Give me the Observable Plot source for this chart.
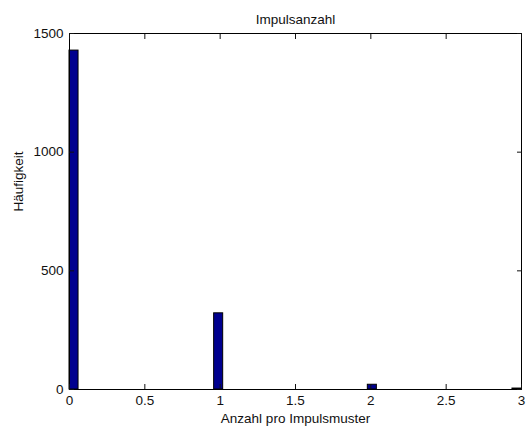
<!DOCTYPE html>
<html><head><meta charset="utf-8">
<script src="https://cdn.jsdelivr.net/npm/d3@7"></script>
<script src="https://cdn.jsdelivr.net/npm/@observablehq/plot@0.6"></script>
<style>body{margin:0;background:#fff} svg{display:block}</style>
</head><body><div id="chart"></div>
<script>
// Histogram bins (MATLAB hist, 50 bins over 0..3)
const binStart = [0.00, 0.96, 1.98, 2.94];
const binEnd   = [0.06, 1.02, 2.04, 3.00];
const counts   = [1428, 321, 20, 4];
const xTicks = [0, 0.5, 1, 1.5, 2, 2.5, 3];
const yTicks = [0, 500, 1000, 1500];
const titleText = "Impulsanzahl";
const xLabel = "Anzahl pro Impulsmuster";
const yLabel = "Häufigkeit";

const bars = counts.map((c, i) => ({x1: binStart[i], x2: binEnd[i], y: c}));
const FS = 13.5;

const chart = Plot.plot({
  width: 529, height: 430,
  marginLeft: 69, marginRight: 8, marginTop: 33, marginBottom: 41,
  style: {fontFamily: "'Liberation Sans', Arial, sans-serif", fontSize: FS + "px", color: "#111", background: "#fff"},
  x: {domain: [0, 3]},
  y: {domain: [0, 1500]},
  marks: [
    Plot.rect(bars, {x1: "x1", x2: "x2", y1: () => 0, y2: "y", fill: "#00008F", stroke: "#000", strokeWidth: 1}),
    Plot.frame({stroke: "#000"}),
    // inward ticks on all four sides
    Plot.axisX(xTicks, {anchor: "bottom", tickSize: -5, tickFormat: () => "", label: null}),
    Plot.axisX(xTicks, {anchor: "top", tickSize: -5, tickFormat: () => "", label: null}),
    Plot.axisY(yTicks, {anchor: "left", tickSize: -5, tickFormat: () => "", label: null}),
    Plot.axisY(yTicks, {anchor: "right", tickSize: -5, tickFormat: () => "", label: null}),
    // tick labels
    Plot.axisX(xTicks, {anchor: "bottom", tickSize: 0, tickPadding: 6, tickFormat: d => String(d), label: null, fontSize: FS}),
    Plot.axisY(yTicks, {anchor: "left", tickSize: 0, tickPadding: 6, tickFormat: d => String(d), label: null, fontSize: FS}),
    Plot.text([titleText], {frameAnchor: "top", text: d => d, dy: -19, lineAnchor: "top", fontSize: FS}),
    Plot.text([xLabel], {frameAnchor: "bottom", text: d => d, dy: 24, lineAnchor: "top", fontSize: FS}),
    Plot.text([yLabel], {frameAnchor: "left", text: d => d, dx: -51, rotate: -90, fontSize: FS})
  ]
});
document.getElementById("chart").appendChild(chart);
</script>
</body></html>
